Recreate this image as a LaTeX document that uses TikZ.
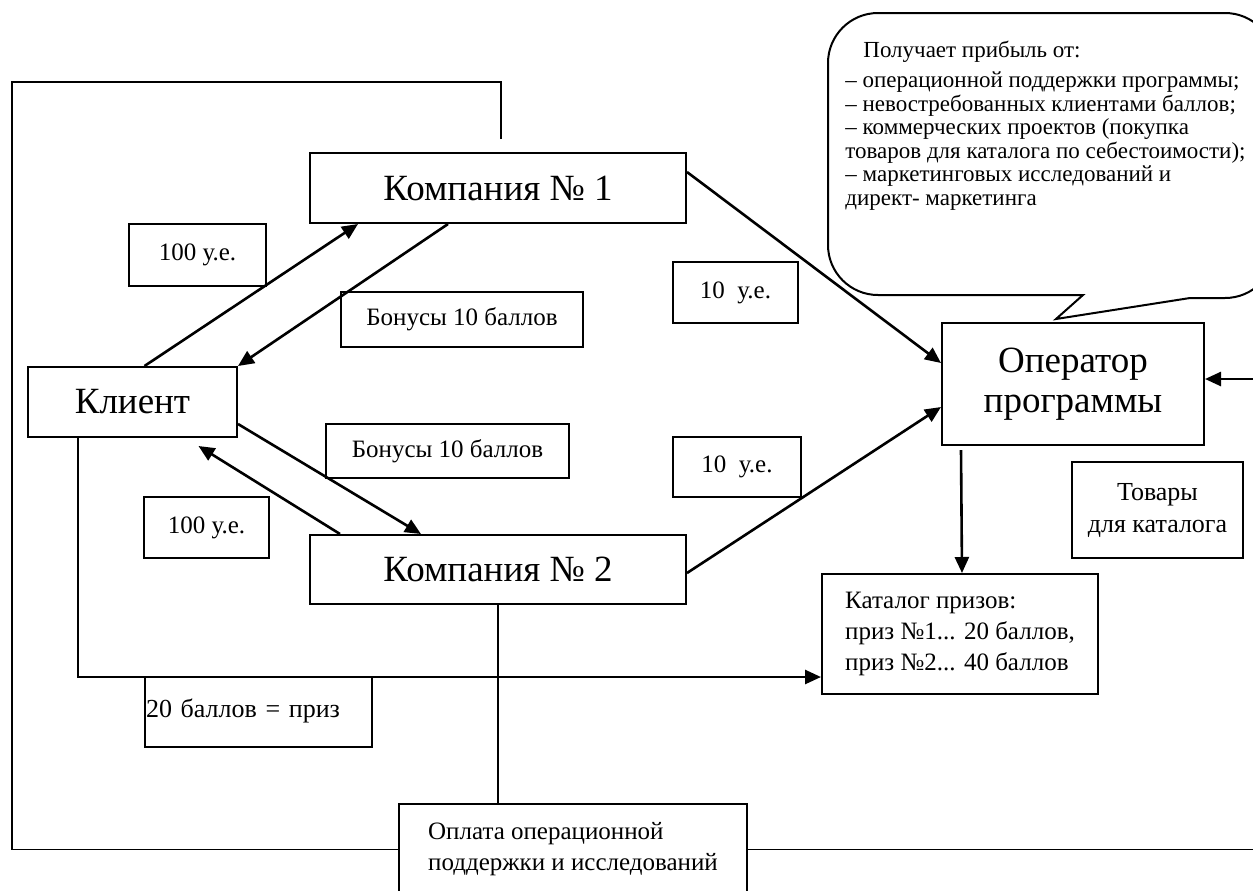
\documentclass[tikz,border=0pt]{standalone}
\usepackage{fontspec}
\setmainfont{Liberation Serif}
\usetikzlibrary{arrows.meta,calc}

\begin{document}
\begin{tikzpicture}[x=0.5pt,y=-0.5pt,
		box/.style={draw,line width=1pt,inner sep=0pt,align=center},
		big/.style={box,font=\fontsize{18.5}{20}\selectfont},
		small/.style={box,font=\fontsize{12.5}{15.5}\selectfont},
		flow/.style={line width=1.3pt,-{Triangle[length=8pt,width=7pt]}},
		loop/.style={line width=0.8pt}]
		\useasboundingbox (0,0) rectangle (1253,890);
		\clip (0,0) rectangle (1253,890);
		% main boxes
		\node[big,minimum width=188pt,minimum height=35pt] (k1) at (498,188) {Компания № 1};
		\node[big,minimum width=104.5pt,minimum height=35pt] (cl) at (132.5,402) {Клиент};
		\node[big,minimum width=188pt,minimum height=34.5pt] (k2) at (498,569.5) {Компания № 2};
		\node[big,minimum width=131pt,minimum height=61pt] (op) at (1073,384) {Оператор\\программы};
		\node[small,minimum width=138pt,minimum height=60pt,align=left] (cat) at (960,634) {Каталог призов:\\приз №1... 20 баллов,\\приз №2... 40 баллов};
		\node[small,minimum width=85.5pt,minimum height=48pt,font=\fontsize{13}{16}\selectfont] (tov) at (1157.5,510) {Товары\\для каталога};
		\node[small,minimum width=174pt,minimum height=45.5pt,align=left] (opl) at (573,849.5) {Оплата операционной\\поддержки и исследований};
		% labels
		\node[small,minimum width=68.5pt,minimum height=31pt] (u1) at (197.5,255) {100 у.е.};
		\node[small,minimum width=62.5pt,minimum height=30.5pt] (u2) at (206.5,527.5) {100 у.е.};
		\node[small,minimum width=121pt,minimum height=27.5pt] (b1) at (462,319.5) {Бонусы 10 баллов};
		\node[small,minimum width=121.5pt,minimum height=27pt] (b2) at (447.5,451) {Бонусы 10 баллов};
		\node[small,minimum width=62.5pt,minimum height=30.5pt] (t1) at (735.5,292.5) {10~~у.е.};
		\node[small,minimum width=64pt,minimum height=30pt] (t2) at (737,467) {10~~у.е.};
		\node[small,minimum height=35pt,text width=112.5pt,inner xsep=0.5pt,align=left,font=\fontsize{13}{15}\selectfont] (pr) at (258.5,712) {\raisebox{3.5pt}{20 баллов = приз}};
		% callout
		\draw[line width=1pt] (1190,298) [rounded corners=25pt] -- (1275,298) -- (1275,13) -- (828,13) -- (828,295) [sharp corners] -- (1083,295) -- (1056,319) -- cycle;
		\node[anchor=north west,align=left,inner sep=0pt,font=\fontsize{11.5}{11.8}\selectfont] (profit) at (845,41) {\hspace*{9pt}Получает прибыль от:\\[3pt]
			– операционной поддержки программы;\\
			– невостребованных клиентами баллов;\\
			– коммерческих проектов (покупка\\
			товаров для каталога по себестоимости);\\
			– маркетинговых исследований и\\
			директ- маркетинга};
		% money and bonuses
		\draw[flow] ($(cl.north)+(12,0)$) -- ($(k1.south west)+(49,0)$);
		\draw[flow] ($(k1.south west)+(139,0)$) -- (cl.north east);
		\draw[flow] ($(cl.east)+(0,22)$) -- ($(k2.north west)+(112,0)$);
		\draw[flow] ($(k2.north west)+(31,0)$) -- ($(cl.south)+(66,8)$);
		\draw[flow] ($(k1.east)+(0,-16)$) -- ($(op.west)+(0,-21)$);
		\draw[flow] ($(k2.east)+(0,3.5)$) -- ($(op.west)+(0,23)$);
		\draw[flow] ($(op.south west)+(20,4)$) -- ($(cat.north)+(2,0)$);
		\draw[flow] ($(cl.south west)+(51,0)$) |- ($(cat.west)+(0,43)$);
		% payment loop
		\coordinate (loopR) at (1275,379);
		\draw[loop] ($(k1.north)+(3,-13)$) |- (12,82) |- (opl.west);
		\draw[loop] (k2.south) -- (k2.south |- opl.north);
		\draw[loop] (opl.east) -| (loopR);
		\draw[flow] (loopR) -- ($(op.east)+(0,-5)$);
	\end{tikzpicture}
\end{document}
